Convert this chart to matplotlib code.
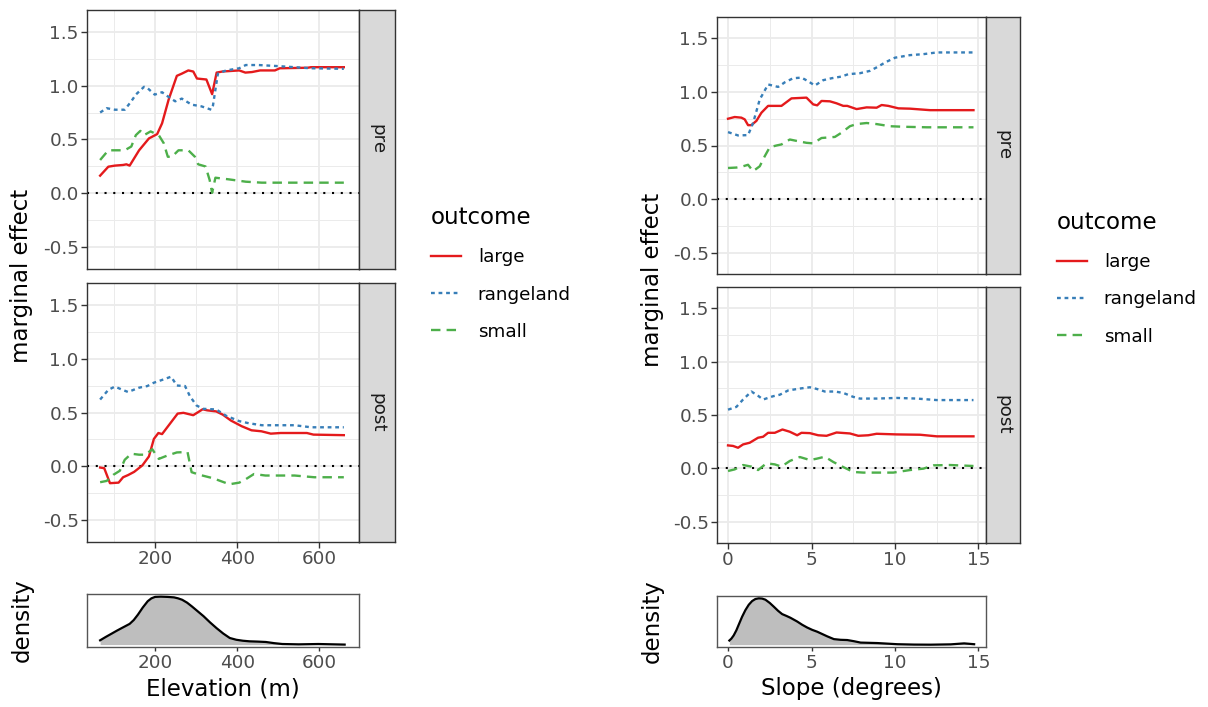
import matplotlib

matplotlib.use("Agg")
import matplotlib.pyplot as plt
from matplotlib.lines import Line2D

W, H = 1208, 707

OUTCOMES = ["large", "rangeland", "small"]
COLORS = {"large": "#E41A1C", "rangeland": "#377EB8", "small": "#4DAF4A"}
STYLES = {"large": "-", "rangeland": (0, (1.6, 1.6)), "small": (0, (4, 2.6))}

# elevation, pre
elev_pre_large_x = [66, 86, 102, 122, 130, 138, 161, 185, 205, 217, 233, 253, 265, 281, 293, 302, 325, 339, 350, 364, 405, 420, 436, 456, 492, 504, 572, 580, 660]
elev_pre_large_y = [0.165, 0.248, 0.258, 0.264, 0.27, 0.258, 0.40, 0.51, 0.55, 0.65, 0.87, 1.09, 1.11, 1.14, 1.13, 1.065, 1.056, 0.92, 1.12, 1.13, 1.14, 1.12, 1.125, 1.14, 1.14, 1.16, 1.165, 1.17, 1.17]
elev_pre_range_x = [66, 82, 102, 126, 142, 153, 173, 181, 199, 217, 233, 249, 265, 289, 313, 337, 341, 353, 373, 405, 421, 452, 500, 580, 660]
elev_pre_range_y = [0.75, 0.79, 0.776, 0.776, 0.854, 0.916, 0.988, 0.978, 0.916, 0.938, 0.894, 0.854, 0.879, 0.823, 0.807, 0.776, 0.814, 1.11, 1.14, 1.16, 1.19, 1.19, 1.18, 1.16, 1.155]
elev_pre_small_x = [66, 86, 126, 142, 153, 164, 173, 189, 209, 221, 231, 241, 257, 281, 297, 305, 323, 333, 339, 347, 381, 421, 460, 660]
elev_pre_small_y = [0.31, 0.40, 0.40, 0.435, 0.54, 0.58, 0.54, 0.575, 0.54, 0.466, 0.34, 0.34, 0.40, 0.40, 0.34, 0.27, 0.25, 0.124, 0.006, 0.146, 0.13, 0.109, 0.10, 0.10]

# elevation, post
elev_post_large_x = [66, 76, 90, 111, 122, 134, 149, 169, 185, 197, 208, 217, 241, 255, 269, 293, 316, 327, 349, 365, 385, 411, 435, 459, 482, 506, 570, 586, 660]
elev_post_large_y = [-0.01, -0.016, -0.155, -0.15, -0.10, -0.08, -0.05, 0.01, 0.093, 0.255, 0.31, 0.30, 0.42, 0.49, 0.497, 0.475, 0.53, 0.52, 0.51, 0.48, 0.425, 0.373, 0.335, 0.326, 0.304, 0.31, 0.31, 0.295, 0.29]
elev_post_range_x = [66, 86, 102, 118, 134, 161, 181, 197, 221, 239, 253, 273, 285, 301, 317, 349, 373, 405, 429, 460, 540, 580, 660]
elev_post_range_y = [0.62, 0.71, 0.74, 0.714, 0.69, 0.73, 0.745, 0.776, 0.807, 0.832, 0.75, 0.745, 0.65, 0.565, 0.534, 0.528, 0.47, 0.42, 0.40, 0.382, 0.382, 0.363, 0.363]
elev_post_small_x = [66, 82, 98, 114, 126, 142, 161, 177, 193, 209, 229, 253, 279, 289, 309, 341, 381, 405, 421, 441, 469, 540, 588, 660]
elev_post_small_y = [-0.146, -0.134, -0.078, -0.04, 0.062, 0.118, 0.109, 0.109, 0.16, 0.07, 0.10, 0.13, 0.134, -0.053, -0.078, -0.109, -0.165, -0.15, -0.118, -0.07, -0.084, -0.084, -0.10, -0.10]

# slope, pre
slope_pre_large_x = [0, 0.4, 0.8, 1.0, 1.2, 1.4, 1.7, 2.0, 2.4, 3.2, 3.8, 4.7, 5.1, 5.34, 5.6, 6.1, 6.5, 6.9, 7.14, 7.7, 8.3, 8.9, 9.2, 9.6, 10.2, 10.9, 12.1, 14.7]
slope_pre_large_y = [0.75, 0.766, 0.76, 0.744, 0.69, 0.69, 0.73, 0.806, 0.87, 0.87, 0.94, 0.947, 0.884, 0.875, 0.916, 0.9125, 0.894, 0.87, 0.87, 0.84, 0.856, 0.853, 0.878, 0.87, 0.847, 0.844, 0.83, 0.83]
slope_pre_range_x = [0, 0.6, 1.2, 1.5, 1.9, 2.4, 3.0, 3.4, 3.9, 4.4, 4.8, 5.2, 5.7, 6.2, 6.8, 7.2, 7.9, 8.5, 9.0, 9.4, 10.0, 10.9, 11.7, 12.5, 14.7]
slope_pre_range_y = [0.625, 0.594, 0.597, 0.71, 0.93, 1.07, 1.047, 1.09, 1.128, 1.134, 1.10, 1.06, 1.11, 1.128, 1.144, 1.166, 1.175, 1.197, 1.2375, 1.275, 1.32, 1.344, 1.353, 1.369, 1.369]
slope_pre_small_x = [0, 0.5, 0.9, 1.2, 1.5, 1.9, 2.2, 2.5, 2.9, 3.2, 3.7, 4.2, 4.7, 5.1, 5.6, 6.4, 6.8, 7.3, 7.7, 8.3, 8.9, 9.7, 10.5, 11.9, 14.7]
slope_pre_small_y = [0.29, 0.294, 0.306, 0.32, 0.26, 0.306, 0.40, 0.484, 0.50, 0.51, 0.556, 0.54, 0.525, 0.52, 0.57, 0.58, 0.62, 0.68, 0.70, 0.71, 0.70, 0.68, 0.675, 0.67, 0.67]

# slope, post
slope_post_large_x = [0, 0.3, 0.6, 0.9, 1.3, 1.8, 2.1, 2.4, 2.8, 3.26, 3.7, 4.14, 4.4, 4.9, 5.4, 5.9, 6.5, 7.3, 7.8, 8.4, 8.9, 10.1, 11.5, 12.5, 14.7]
slope_post_large_y = [0.215, 0.21, 0.193, 0.224, 0.24, 0.287, 0.296, 0.333, 0.333, 0.364, 0.343, 0.31, 0.333, 0.33, 0.31, 0.305, 0.336, 0.327, 0.305, 0.31, 0.324, 0.318, 0.315, 0.30, 0.30]
slope_post_range_x = [0, 0.5, 0.9, 1.4, 1.8, 2.1, 2.7, 3.1, 3.6, 4.3, 4.9, 5.3, 5.8, 6.4, 6.9, 7.5, 7.9, 8.9, 10.1, 11.3, 12.5, 14.7]
slope_post_range_y = [0.55, 0.576, 0.645, 0.72, 0.68, 0.645, 0.676, 0.69, 0.73, 0.748, 0.76, 0.745, 0.72, 0.72, 0.707, 0.67, 0.654, 0.654, 0.66, 0.654, 0.64, 0.64]
slope_post_small_x = [0, 0.4, 0.9, 1.4, 1.8, 2.3, 2.8, 3.2, 3.7, 4.3, 4.9, 5.3, 5.8, 6.3, 6.9, 7.5, 8.1, 9.9, 10.9, 11.7, 12.3, 13.3, 14.7]
slope_post_small_y = [-0.025, -0.01, 0.031, 0.016, -0.016, 0.047, 0.037, 0.016, 0.069, 0.106, 0.078, 0.09, 0.109, 0.06, 0.012, -0.034, -0.04, -0.04, -0.016, -0.003, 0.028, 0.031, 0.022]

# densities (relative height)
elev_dens_x = [66, 80, 94, 106, 118, 128, 138, 148, 158, 170, 182, 191, 200, 214, 230, 246, 256, 266, 278, 290, 304, 318, 334, 350, 366, 382, 398, 414, 430, 450, 470, 490, 510, 550, 598, 662]
elev_dens_y = [0.089, 0.16, 0.227, 0.285, 0.34, 0.385, 0.43, 0.51, 0.62, 0.77, 0.90, 0.96, 0.99, 0.995, 0.99, 0.98, 0.96, 0.93, 0.87, 0.79, 0.69, 0.59, 0.46, 0.34, 0.23, 0.137, 0.10, 0.08, 0.068, 0.062, 0.054, 0.03, 0.012, 0.005, 0.012, 0.0]
slope_dens_x = [0.08, 0.2, 0.34, 0.5, 0.64, 0.84, 1.04, 1.24, 1.44, 1.64, 1.84, 2.04, 2.24, 2.5, 2.74, 3.0, 3.24, 3.5, 3.74, 4.14, 4.44, 4.74, 5.04, 5.34, 5.64, 5.94, 6.34, 6.74, 7.14, 7.54, 7.94, 8.94, 10.14, 11.14, 12.14, 13.34, 14.14, 14.74]
slope_dens_y = [0.09, 0.13, 0.2, 0.31, 0.43, 0.6, 0.745, 0.86, 0.94, 0.985, 1.0, 0.995, 0.97, 0.9, 0.82, 0.73, 0.66, 0.62, 0.58, 0.50, 0.43, 0.37, 0.32, 0.28, 0.23, 0.18, 0.12, 0.105, 0.10, 0.075, 0.045, 0.035, 0.01, 0.002, 0.0, 0.007, 0.028, 0.01]

BIG = 16.5
SMALL = 13.2
BORDER = "#333333"
GRID = "#EBEBEB"


def px_axes(fig, x0, y0, x1, y1):
    return fig.add_axes([x0 / W, 1 - y1 / H, (x1 - x0) / W, (y1 - y0) / H])


def style_panel(ax, xlim, xmajor, xminor, show_x):
    ax.set_xlim(*xlim)
    ax.set_ylim(-0.70, 1.70)
    ax.set_xticks(xmajor)
    ax.set_xticks(xminor, minor=True)
    ax.set_yticks([-0.5, 0.0, 0.5, 1.0, 1.5])
    ax.set_yticks([-0.25, 0.25, 0.75, 1.25], minor=True)
    ax.grid(True, which="major", color=GRID, linewidth=1.3, zorder=0)
    ax.grid(True, which="minor", color=GRID, linewidth=0.7, zorder=0)
    ax.set_axisbelow(True)
    for s in ax.spines.values():
        s.set_color(BORDER)
        s.set_linewidth(1.0)
    ax.tick_params(which="minor", length=0)
    ax.tick_params(which="major", length=4, width=1.0, color=BORDER,
                   labelsize=SMALL, labelcolor="#4D4D4D", pad=2)
    ax.yaxis.set_major_formatter(matplotlib.ticker.FormatStrFormatter("%.1f"))
    if not show_x:
        ax.tick_params(axis="x", which="both", length=0, labelbottom=False)


def add_strip(fig, x0, y0, x1, y1, label):
    sa = px_axes(fig, x0, y0, x1, y1)
    sa.set_facecolor("#D9D9D9")
    sa.set_xticks([])
    sa.set_yticks([])
    for s in sa.spines.values():
        s.set_color(BORDER)
        s.set_linewidth(1.0)
    sa.text(0.5, 0.5, label, rotation=-90, ha="center", va="center",
            fontsize=SMALL, color="#1A1A1A", transform=sa.transAxes)


def draw_group(fig, series, dens, box, xlim, xmajor, xminor, xlabel, leg_pos):
    left, right, strip_r, panels, dens_box, ylab_x = box
    for i, (period, (y0, y1)) in enumerate(zip(["pre", "post"], panels)):
        ax = px_axes(fig, left, y0, right, y1)
        style_panel(ax, xlim, xmajor, xminor, show_x=(i == 1))
        ax.axhline(0, color="black", linestyle=(0, (1, 3.2)), linewidth=1.5, zorder=2)
        for name in OUTCOMES:
            xs, ys = series[period][name]
            ax.plot(xs, ys, color=COLORS[name], linestyle=STYLES[name],
                    linewidth=1.7, zorder=3)
        add_strip(fig, right, y0, strip_r, y1, period)

    dx, dy = dens
    da = px_axes(fig, left, dens_box[0], right, dens_box[1])
    da.fill_between(dx, 0, dy, color="#BEBEBE", linewidth=0)
    da.plot(dx, dy, color="black", linewidth=1.6)
    da.set_xlim(*xlim)
    da.set_ylim(-0.05, 1.05)
    da.set_xticks(xmajor)
    da.set_yticks([])
    for s in da.spines.values():
        s.set_color("#555555")
        s.set_linewidth(1.0)
    da.tick_params(axis="x", length=3, width=1.0, color="#333333",
                   labelsize=SMALL, labelcolor="#4D4D4D", pad=2)
    da.set_xlabel(xlabel, fontsize=BIG, labelpad=4)

    mid = (panels[0][0] + panels[1][1]) / 2
    fig.text(ylab_x / W, 1 - mid / H, "marginal effect", rotation=90,
             ha="center", va="center", fontsize=BIG)
    fig.text(ylab_x / W, 1 - (dens_box[0] + dens_box[1]) / 2 / H, "density",
             rotation=90, ha="center", va="center", fontsize=BIG)

    leg_h = [Line2D([], [], color=COLORS[n], linestyle=STYLES[n], linewidth=1.7)
             for n in OUTCOMES]
    fig.legend(leg_h, OUTCOMES, title="outcome", loc="upper left",
               bbox_to_anchor=(leg_pos[0] / W, 1 - leg_pos[1] / H),
               frameon=False, fontsize=SMALL, title_fontsize=BIG,
               handlelength=1.65, handletextpad=0.9, labelspacing=1.05,
               borderpad=0, borderaxespad=0, alignment="left")


fig = plt.figure(figsize=(W / 100, H / 100), dpi=100)

elev_series = {
    "pre": {"large": (elev_pre_large_x, elev_pre_large_y),
            "rangeland": (elev_pre_range_x, elev_pre_range_y),
            "small": (elev_pre_small_x, elev_pre_small_y)},
    "post": {"large": (elev_post_large_x, elev_post_large_y),
             "rangeland": (elev_post_range_x, elev_post_range_y),
             "small": (elev_post_small_x, elev_post_small_y)},
}
slope_series = {
    "pre": {"large": (slope_pre_large_x, slope_pre_large_y),
            "rangeland": (slope_pre_range_x, slope_pre_range_y),
            "small": (slope_pre_small_x, slope_pre_small_y)},
    "post": {"large": (slope_post_large_x, slope_post_large_y),
             "rangeland": (slope_post_range_x, slope_post_range_y),
             "small": (slope_post_small_x, slope_post_small_y)},
}

draw_group(fig, elev_series, (elev_dens_x, elev_dens_y),
           (87, 359, 395, [(10, 269), (283, 542)], (594, 647), 22),
           (34, 697), [200, 400, 600], [100, 300, 500],
           "Elevation (m)", (431, 206))

draw_group(fig, slope_series, (slope_dens_x, slope_dens_y),
           (717, 986, 1020, [(17, 274), (287, 543)], (596, 647), 652),
           (-0.66, 15.45), [0, 5, 10, 15], [2.5, 7.5, 12.5],
           "Slope (degrees)", (1057, 211))

fig.savefig("out.png", dpi=100)
